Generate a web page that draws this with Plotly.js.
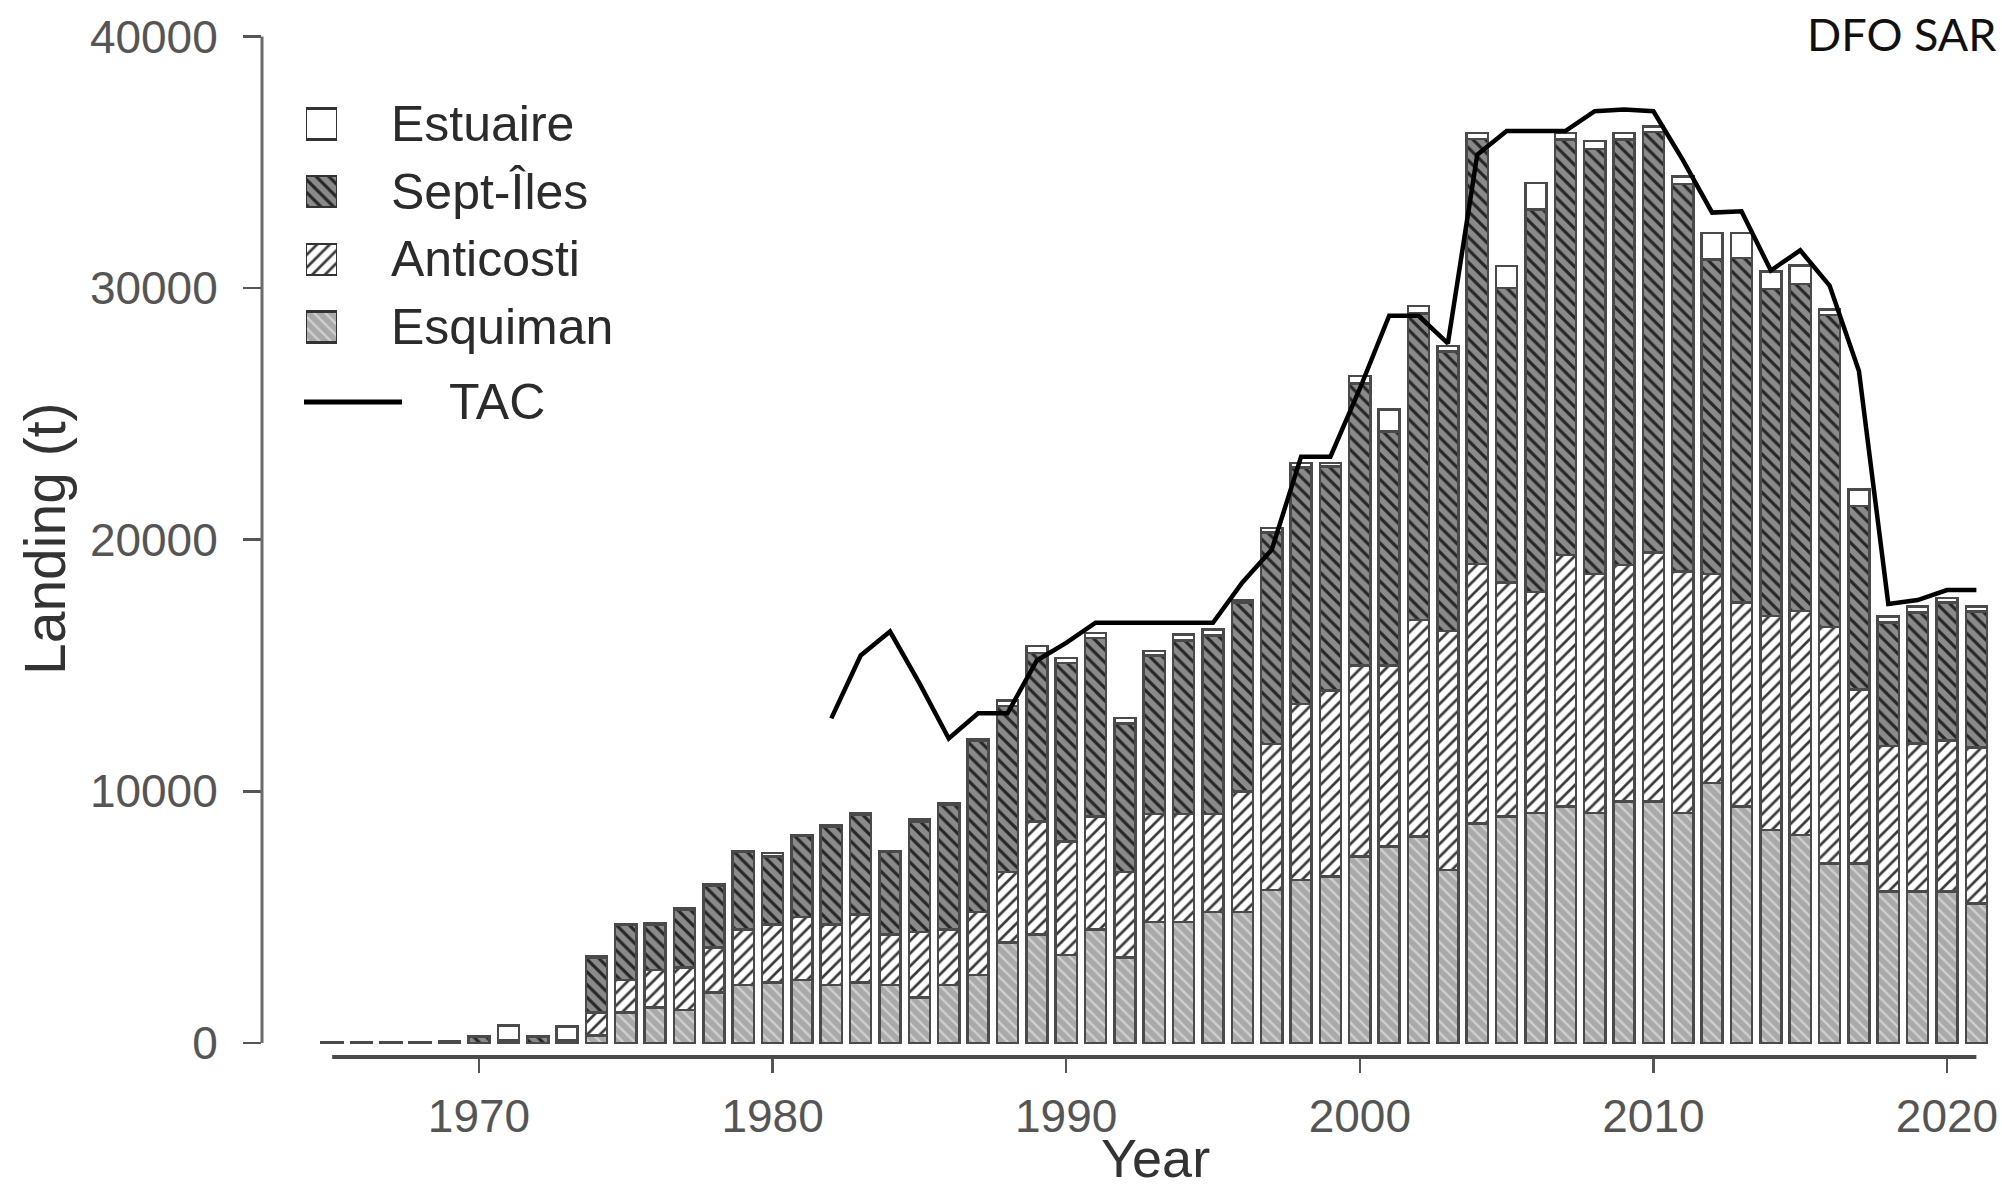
<!DOCTYPE html>
<html>
<head>
<meta charset="utf-8">
<script src="https://cdn.plot.ly/plotly-3.0.1.min.js"></script>
<style>html,body{margin:0;padding:0;background:#fff;}#chart{width:2002px;height:1192px;}</style>
</head>
<body>
<div id="chart"></div>
<script>
// ---------------- DATA ----------------
const years = [1965,1966,1967,1968,1969,1970,1971,1972,1973,1974,1975,1976,1977,1978,1979,1980,
  1981,1982,1983,1984,1985,1986,1987,1988,1989,1990,1991,1992,1993,1994,1995,1996,1997,1998,1999,
  2000,2001,2002,2003,2004,2005,2006,2007,2008,2009,2010,2011,2012,2013,2014,2015,2016,2017,2018,
  2019,2020,2021];

const esquiman = [0,0,0,0,0,0,0,0,0,300,1200,1400,1300,2000,2300,2400,
  2500,2300,2400,2300,1800,2300,2700,4000,4300,3500,4500,3400,4800,4800,5200,5200,6080,6480,6610,
  7410,7800,8200,6880,8730,9000,9130,9400,9130,9600,9600,9130,10330,9400,8470,8270,7140,7140,6010,
  6010,6010,5540];

const anticosti = [0,0,0,0,0,0,0,0,0,900,1300,1500,1700,1800,2200,2300,
  2500,2400,2700,2000,2600,2200,2500,2800,4500,4500,4500,3400,4300,4300,3900,4800,5800,7000,7400,
  7600,7200,8600,9500,10300,9300,8800,10000,9500,9400,9900,9600,8300,8100,8500,8900,9400,6900,5800,
  5900,6000,6200];

const septIles = [30,40,30,40,50,250,100,250,100,2200,2200,1800,2300,2450,3100,2700,
  3250,3900,3950,3300,4400,4950,6800,6600,6700,7100,7100,5900,6300,6900,7100,7500,8400,9400,8900,
  11200,9300,12200,11100,16900,11700,15200,16500,16900,16900,16700,15400,12500,13700,13000,13000,12400,7300,4900,
  5200,5500,5400];

const estuaire = [0,0,0,0,0,0,600,0,550,30,0,60,60,40,0,140,
  20,70,80,0,70,80,60,200,270,200,200,220,170,230,230,100,180,170,140,
  290,870,280,210,240,870,1050,270,310,270,230,310,1060,990,690,730,210,660,240,
  240,170,210];

const tac = [null,null,null,null,null,null,null,null,null,null,null,null,null,null,null,null,
  null,12900,15400,16350,14300,12100,13100,13100,15200,15900,16700,16700,16700,16700,16700,18300,19600,23300,23300,
  26000,28900,28900,27800,35300,36240,36240,36240,37030,37100,37030,35100,33000,33050,30700,31500,30100,26700,17450,
  17600,18000,18000];

const seriesNames = ['Estuaire', 'Sept-Îles', 'Anticosti', 'Esquiman'];
const tacName = 'TAC';
const xTickVals = [1970, 1980, 1990, 2000, 2010, 2020];
const yTickVals = [0, 10000, 20000, 30000, 40000];
const xTitle = 'Year';
const yTitle = 'Landing (t)';
const cornerText = 'DFO SAR';

// ---------------- STYLE ----------------
const FONT = 'Liberation Sans, Arial, Helvetica, sans-serif';
const OUTLINE = {color: '#4a4a4a', width: 2.5};
const styles = {
  'Estuaire':  {color: '#ffffff', pattern: {shape: ''}},
  'Sept-Îles': {color: '#8a8a8a', pattern: {shape: '\\', fgcolor: '#262626', bgcolor: '#8a8a8a', size: 9, solidity: 0.35}},
  'Anticosti': {color: '#ffffff', pattern: {shape: '/', fgcolor: '#3a3a3a', bgcolor: '#ffffff', size: 9, solidity: 0.3}},
  'Esquiman':  {color: '#a9a9a9', pattern: {shape: '\\', fgcolor: '#d0d0d0', bgcolor: '#a9a9a9', size: 8, solidity: 0.3}}
};
const seriesValues = {'Estuaire': estuaire, 'Sept-Îles': septIles, 'Anticosti': anticosti, 'Esquiman': esquiman};

// plot-area pixel geometry
const W = 2002, H = 1192;
const L = 262, R = 1994, T = 36, B = 1057;
const px2x = px => (px - L) / (R - L);
const py2y = py => (B - py) / (B - T);

// ---------------- TRACES ----------------
const traces = [];
const stackOrder = ['Esquiman', 'Anticosti', 'Sept-Îles', 'Estuaire'];
stackOrder.forEach(name => {
  traces.push({
    type: 'bar', name: name, x: years, y: seriesValues[name],
    marker: {color: styles[name].color, pattern: styles[name].pattern, line: OUTLINE},
    showlegend: false, hoverinfo: 'x+y+name'
  });
});
traces.push({
  type: 'scatter', mode: 'lines', name: tacName, x: years, y: tac,
  line: {color: '#000000', width: 4.5}, connectgaps: false, showlegend: false
});

// custom legend keys (one small bar per series on an inset axis)
seriesNames.forEach((name, i) => {
  traces.push({
    type: 'bar', orientation: 'h', x: [1], y: [i], base: 0, width: 0.46,
    xaxis: 'x2', yaxis: 'y2', showlegend: false, hoverinfo: 'skip',
    marker: {color: styles[name].color, pattern: styles[name].pattern, line: {color: '#333', width: 2.5}}
  });
});

// ---------------- LAYOUT ----------------
const rowY = [124, 192, 259, 327];
const tacRowY = 402;
const annotations = seriesNames.map((name, i) => ({
  text: name, xref: 'paper', yref: 'paper', x: px2x(389), y: py2y(rowY[i]),
  xanchor: 'left', yanchor: 'middle', showarrow: false,
  font: {family: FONT, size: 50, color: '#2b2b2b'}
}));
annotations.push({
  text: tacName, xref: 'paper', yref: 'paper', x: px2x(447), y: py2y(tacRowY),
  xanchor: 'left', yanchor: 'middle', showarrow: false,
  font: {family: FONT, size: 50, color: '#2b2b2b'}
});
annotations.push({
  text: cornerText, xref: 'paper', yref: 'paper', x: px2x(1998), y: py2y(34),
  xanchor: 'right', yanchor: 'middle', showarrow: false,
  font: {family: 'Lato, Open Sans, sans-serif', size: 45, color: '#111'}
});
// axis titles
annotations.push({
  text: yTitle, xref: 'paper', yref: 'paper', x: px2x(45), y: py2y(538), textangle: -90,
  xanchor: 'center', yanchor: 'middle', showarrow: false,
  font: {family: FONT, size: 57, color: '#333'}
});
annotations.push({
  text: xTitle, xref: 'paper', yref: 'paper', x: px2x(1155), y: py2y(1158),
  xanchor: 'center', yanchor: 'middle', showarrow: false,
  font: {family: FONT, size: 54, color: '#333'}
});

const layout = {
  width: W, height: H,
  margin: {l: L, r: W - R, t: T, b: H - B, pad: 0},
  paper_bgcolor: '#ffffff', plot_bgcolor: '#ffffff',
  barmode: 'stack', bargap: 0.28,
  showlegend: false,
  font: {family: FONT, color: '#555'},
  xaxis: {
    range: [1962.61, 2021.6], showgrid: false, zeroline: false, showline: false,
    tickmode: 'array', tickvals: xTickVals, ticktext: xTickVals.map(String),
    ticks: 'outside', ticklen: 15, tickwidth: 2.5, tickcolor: '#555', ticklabelstandoff: 4,
    tickfont: {family: FONT, size: 46, color: '#555'}
  },
  yaxis: {
    range: [-560, 40020], showgrid: false, zeroline: false, showline: false,
    tickmode: 'array', tickvals: yTickVals, ticktext: yTickVals.map(String),
    ticks: 'outside', ticklen: 18, tickwidth: 2.5, tickcolor: '#555', ticklabelstandoff: 16,
    tickfont: {family: FONT, size: 46, color: '#555'}
  },
  xaxis2: {domain: [px2x(306), px2x(337)], range: [0, 1], anchor: 'y2', visible: false, fixedrange: true},
  yaxis2: {domain: [py2y(rowY[3] + 34), py2y(rowY[0] - 34)], range: [seriesNames.length - 0.5, -0.5],
           anchor: 'x2', visible: false, fixedrange: true},
  shapes: [
    {type: 'line', xref: 'paper', yref: 'y', x0: 0, x1: 0, y0: yTickVals[0], y1: yTickVals[yTickVals.length - 1],
     line: {color: '#6b6b6b', width: 3}},
    {type: 'line', xref: 'x', yref: 'paper', x0: years[0], x1: years[years.length - 1], y0: 0, y1: 0,
     line: {color: '#4a4a4a', width: 4}},
    {type: 'line', xref: 'paper', yref: 'paper', x0: px2x(304), x1: px2x(402), y0: py2y(tacRowY), y1: py2y(tacRowY),
     line: {color: '#000', width: 5}}
  ],
  annotations: annotations
};

Plotly.newPlot('chart', traces, layout, {displayModeBar: false, staticPlot: true});
</script>
</body>
</html>
